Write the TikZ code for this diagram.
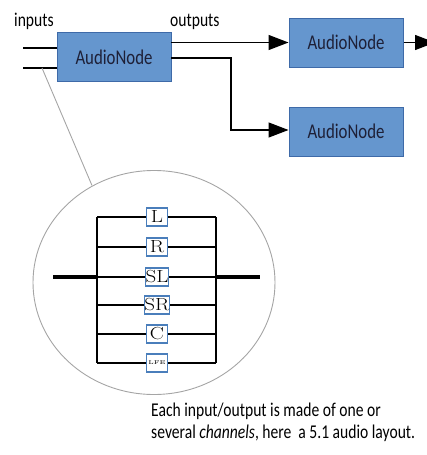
\documentclass[tikz,border=0pt]{standalone}
\usepackage{fontspec}
\setmainfont{Carlito}[FakeStretch=0.8]
\newfontfamily\lmfont{Latin Modern Roman}[FakeStretch=1.2]
\usetikzlibrary{arrows.meta,shapes.geometric}
\definecolor{boxfill}{RGB}{101,150,206}
\definecolor{boxdraw}{RGB}{62,106,168}
\definecolor{boxtext}{RGB}{30,32,55}
\definecolor{chdraw}{RGB}{74,126,187}
\definecolor{ellgray}{RGB}{165,165,165}
\begin{document}
\begin{tikzpicture}[x=1pt,y=-1pt,
  anode/.style={draw=boxdraw, fill=boxfill, line width=1pt, minimum width=114pt,
    minimum height=49pt, inner sep=0pt, text=boxtext, font=\fontsize{21}{21}\selectfont},
  wire/.style={line width=1.3pt},
  arr/.style={wire, -{Triangle[length=20pt,width=15pt]}},
  chbox/.style={draw=chdraw, fill=white, line width=1.1pt, minimum width=21pt,
    minimum height=18pt, inner sep=0pt, font=\lmfont\fontsize{17.5}{17.5}\selectfont},
  bus/.style={line width=2pt},
  thick bus/.style={line width=4.2pt},
  lbl/.style={inner sep=0pt, font=\fontsize{19.5}{19.5}\selectfont}
]
\path[use as bounding box] (0,0) rectangle (427,455);

% top nodes
\node[anode] (main) at (114,57) {AudioNode};
\node[anode] (out1) at (346,42.5) {AudioNode};
\node[anode] (out2) at (346,131.5) {AudioNode};

\node[lbl, anchor=base west] (inlbl) at (14,26) {inputs};
\node[lbl, anchor=base west] (outlbl) at (170,26) {outputs};

% input wires
\coordinate (i1) at (23,48);
\coordinate (i2) at (23,68);
\draw[wire] (i1) -- (i1 -| main.west);
\draw[wire] (i2) -- (i2 -| main.west);

% output wires
\coordinate (o1) at (171,42.5);
\coordinate (o2) at (171,58);
\coordinate (bend) at (231,130);
\coordinate (rend) at (435,42.5);
\draw[arr] (o1) -- (o1 -| out1.west);
\draw[arr] (o2) -| (bend) -- (bend -| out2.west);
\draw[arr] (out1.east) -- (rend);

% zoom ellipse
\node[ellipse, draw=ellgray, line width=0.9pt, minimum width=242pt, minimum height=224pt,
  inner sep=0pt] (zoomell) at (154,282.5) {};
\coordinate (gstart) at (42,68);
\coordinate (gend) at (92,185.5);
\draw[ellgray, line width=0.9pt] (gstart) -- (gend);

% channel bus
\coordinate (lt) at (97,217);
\coordinate (lb) at (97,363);
\coordinate (rt) at (216,217);
\coordinate (rb) at (216,363);
\foreach \y/\t/\n in {217/L/cl, 247/R/cr, 277/SL/csl, 305/SR/csr, 334/C/cc} {
  \draw[line width=1.2pt] (97,\y) -- (216,\y);
  \node[chbox] (\n) at (157,\y) {\t};
}
\draw[line width=1.2pt] (97,363) -- (216,363);
\node[chbox, font=\lmfont\fontsize{5.5}{6}\selectfont] (clfe) at (157,363) {LFE};
\draw[bus] (lt) -- (lb);
\draw[bus] (rt) -- (rb);
\coordinate (tl) at (53,277);
\coordinate (tr) at (260,277);
\draw[thick bus] (tl) -- (97,277);
\draw[thick bus] (216,277) -- (tr);

% caption
\node[lbl, anchor=base west] (cap1) at (151,416) {Each input/output is made of one or};
\node[lbl, anchor=base west] (cap2) at (151,438) {several \textit{channels}, here~ a 5.1 audio layout.};
\end{tikzpicture}
\end{document}
